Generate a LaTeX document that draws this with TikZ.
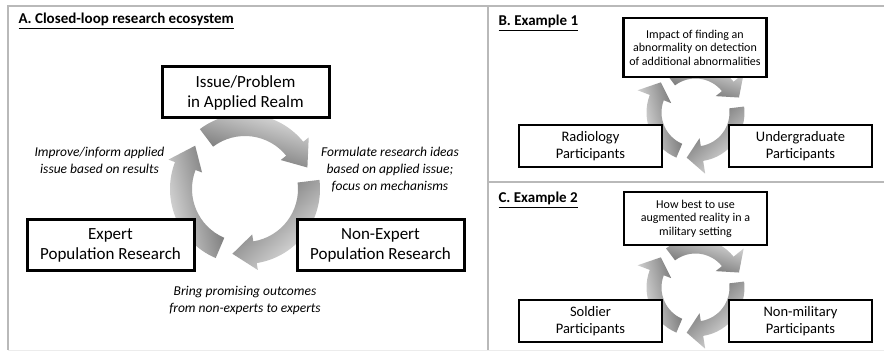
\documentclass[tikz,border=0pt]{standalone}
\usepackage{fontspec}
\setmainfont{Carlito}
\usepackage{tikz}
\usetikzlibrary{calc}

% one curved arrow of a cycle: #1 hub, #2 tail angle (radii set per panel)
\newcommand{\cyclearrow}[2]{%
  \pgfmathsetmacro{\shadeang}{#2-144}
  \shade[left color=black!8, right color=black!60, shading angle=\shadeang]
    ($(#1)+(#2:\ringin)$) arc[start angle=#2, end angle=#2-88, radius=\ringin]
    -- ($(#1)+(#2-88:\headin)$) -- ($(#1)+(#2-108:\tipr)$)
    -- ($(#1)+(#2-88:\headout)$) -- ($(#1)+(#2-88:\ringout)$)
    arc[start angle=#2-88, end angle=#2, radius=\ringout] -- cycle;
}

\tikzset{
  stagebox/.style={draw, line width=3pt, fill=white, align=center, inner sep=0pt,
    minimum width=167pt, minimum height=51pt, font=\fontsize{17}{20}\selectfont},
  casebox/.style={draw, line width=2.4pt, fill=white, align=center, inner sep=0pt,
    minimum width=143pt, minimum height=42pt, font=\fontsize{14.5}{17}\selectfont},
  questionbox/.style={casebox, font=\fontsize{12}{13.5}\selectfont},
  steplabel/.style={align=center, font=\fontsize{13.5}{17}\selectfont\itshape},
  paneltitle/.style={anchor=base west, font=\fontsize{15}{18}\selectfont\bfseries},
  framerule/.style={gray!55, line width=1.2pt},
}

\begin{document}
\begin{tikzpicture}[x=1pt, y=1pt]
\useasboundingbox (0,0) rectangle (884,351);

%panel frame
\draw[gray!15, line width=0.8pt] (8,1) -- (884,1);
\draw[framerule] (8,1) -- (8,345) -- (884,345);
\draw[framerule] (488,345) -- (488,1);
\draw[framerule] (488,169) -- (884,169);

%panel A: cycle
\coordinate (hubA) at (245,162);
\def\ringin{53} \def\ringout{75} \def\headin{46} \def\headout{82} \def\tipr{66}
\cyclearrow{hubA}{127}
\cyclearrow{hubA}{7}
\cyclearrow{hubA}{-113}

\node[paneltitle] (titleA) at (15,327) {\underline{A. Closed-loop research ecosystem}};

\node[stagebox] (issue) at (245.5,258.5) {Issue/Problem\\in Applied Realm};
\node[stagebox] (expert) at (110.5,105.5) {Expert\\Population Research};
\node[stagebox] (nonexpert) at (380.5,105.5) {Non-Expert\\Population Research};

\node[steplabel] (improve) at (99.5,191) {Improve/inform applied\\issue based on results};
\node[steplabel] (formulate) at (390,181) {Formulate research ideas\\based on applied issue;\\focus on mechanisms};
\node[steplabel] (bring) at (245,51) {Bring promising outcomes\\from non-experts to experts};

%panel B: cycle
\coordinate (hubB) at (695.5,238.5);
\def\ringin{34} \def\ringout{49} \def\headin{26} \def\headout{62} \def\tipr{46}
\cyclearrow{hubB}{127}
\cyclearrow{hubB}{7}
\cyclearrow{hubB}{-113}

\node[paneltitle] (titleB) at (495,325) {\underline{B. Example 1}};

\node[questionbox, minimum height=59pt] (impact) at (695,303.5) {Impact of finding an\\abnormality on detection\\of additional abnormalities};
\node[casebox] (radiology) at (590.5,205) {Radiology\\Participants};
\node[casebox] (undergrad) at (800.5,205) {Undergraduate\\Participants};

%panel C: cycle
\coordinate (hubC) at (695.5,63.5);
\cyclearrow{hubC}{127}
\cyclearrow{hubC}{7}
\cyclearrow{hubC}{-113}

\node[paneltitle] (titleC) at (495,148) {\underline{C. Example 2}};

\node[questionbox, minimum height=53pt] (augmented) at (695.5,132.5) {How best to use\\augmented reality in a\\military setting};
\node[casebox] (soldier) at (590.5,30) {Soldier\\Participants};
\node[casebox] (nonmilitary) at (800.5,30) {Non-military\\Participants};

\end{tikzpicture}
\end{document}
